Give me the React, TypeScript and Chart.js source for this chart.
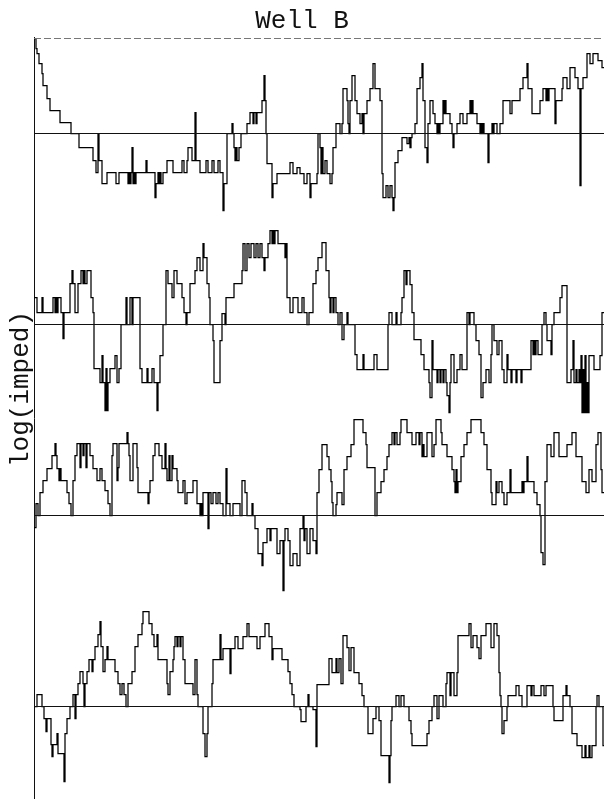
import { useEffect, useRef } from "react";
import { Chart, registerables } from "chart.js";

Chart.register(...registerables);

const chartTitle = "Well B";
const yAxisLabel = "log(imped)";
const depthMax = 570;
const stripGap = 191;
const firstBaseline = -96.5;

// [depth, deviation from strip baseline]
const strip1: [number, number][] = [
  [0, 95], [2, 85], [3, 80], [5, 70], [8, 60], [9, 48], [13, 35], [16, 23], [26, 11], [37, 0],
  [45, -14], [59, -27], [62, -39], [64, 0], [65, -27], [68, -50], [73, -39], [82, -50], [85, -39], [94, -50],
  [95, -39], [96, -50], [97, -39], [98, -14], [99, -50], [100, -39], [101, -50], [102, -39], [112, -27], [113, -39],
  [121, -64], [122, -50], [124, -39], [125, -50], [126, -39], [127, -50], [129, -39], [133, -27], [139, -39], [148, -27],
  [150, -39], [153, -27], [154, -14], [158, -27], [161, 21], [162, -27], [166, -39], [172, -27], [174, -39], [178, -27],
  [180, -39], [184, -27], [186, -39], [189, -77], [190, -50], [193, 0], [198, 10], [199, 0], [200, -14], [201, -27],
  [202, -14], [203, -27], [205, -14], [207, 0], [213, 10], [216, 21], [219, 10], [220, 21], [222, 10], [223, 21],
  [228, 33], [230, 58], [231, 33], [232, 0], [233, -30], [238, -64], [239, -50], [243, -40], [256, -29], [259, -40],
  [263, -34], [266, -40], [270, -50], [273, -40], [276, -64], [277, -50], [283, -40], [284, 0], [286, -14], [287, -40],
  [288, -14], [289, -40], [291, -27], [293, -40], [296, -50], [298, -40], [299, -14], [302, 10], [306, 0], [308, 10],
  [309, 45], [313, 33], [314, 10], [315, 0], [316, 33], [318, 58], [321, 33], [323, 20], [326, 10], [328, 20],
  [329, 0], [330, 20], [333, 33], [336, 45], [339, 70], [341, 45], [346, 33], [348, -40], [349, -64], [352, -52],
  [354, -64], [356, -52], [358, -64], [359, -77], [360, -64], [361, -29], [364, -17], [368, -4], [373, -10], [375, -4],
  [376, -14], [377, -4], [378, 0], [381, 10], [383, 45], [386, 56], [388, 70], [389, 33], [391, -14], [393, -29],
  [394, 10], [396, 33], [399, 20], [401, 10], [403, 0], [404, 10], [405, 0], [406, 10], [409, 33], [410, 20],
  [411, 33], [412, 20], [416, 10], [418, 0], [419, -14], [420, 0], [423, 10], [426, 20], [429, 10], [433, 20],
  [436, 33], [437, 20], [438, 33], [439, 20], [443, 10], [446, 0], [447, 10], [448, 0], [449, 10], [450, 0],
  [454, -29], [455, 0], [458, 10], [459, 0], [460, 10], [463, 0], [466, 10], [469, 33], [476, 20], [478, 33],
  [486, 45], [489, 56], [493, 70], [494, 45], [498, 20], [506, 33], [509, 45], [512, 33], [513, 45], [514, 33],
  [515, 45], [521, 10], [522, 33], [528, 45], [529, 56], [533, 45], [536, 66], [541, 56], [544, 45], [546, -52],
  [547, 45], [549, 56], [553, 80], [556, 70], [559, 80], [564, 73], [568, 66], [570, 66],
];

const strip2: [number, number][] = [
  [0, 27], [3, 12], [8, 27], [9, 12], [19, 27], [21, 12], [22, 27], [23, 12], [24, 27], [27, 12],
  [29, -14], [30, 12], [36, 41], [38, 54], [39, 41], [41, 12], [44, 41], [47, 54], [49, 41], [50, 54],
  [51, 41], [53, 54], [57, 27], [59, 12], [60, -44], [66, -58], [68, -31], [69, -58], [71, -86], [72, -44],
  [73, -86], [74, -58], [76, -44], [81, -31], [83, -58], [85, -44], [87, 0], [92, 27], [93, 0], [96, 27],
  [98, 0], [99, 27], [106, -44], [108, -58], [113, -44], [114, -58], [118, -44], [120, -58], [123, -86], [124, -58],
  [126, -31], [129, 0], [132, 54], [134, 41], [138, 27], [140, 54], [143, 41], [148, 27], [150, 12], [152, 0],
  [153, 12], [156, 41], [161, 54], [163, 67], [166, 54], [169, 81], [170, 67], [173, 41], [175, 27], [176, 0],
  [179, -16], [180, -58], [186, -16], [188, 11], [191, 0], [192, 27], [200, 41], [208, 54], [209, 81], [211, 54],
  [213, 81], [215, 67], [217, 81], [220, 67], [222, 81], [224, 67], [226, 81], [228, 67], [230, 54], [231, 67],
  [234, 81], [236, 94], [238, 81], [239, 94], [240, 81], [241, 94], [244, 81], [251, 67], [252, 81], [253, 27],
  [256, 12], [259, 27], [264, 12], [268, 27], [270, 12], [273, 0], [275, 12], [279, 41], [282, 54], [284, 67],
  [288, 82], [292, 54], [295, 27], [296, 12], [297, 27], [299, 12], [300, 27], [302, 12], [304, 0], [306, 12],
  [308, -15], [310, 0], [313, 12], [314, 0], [321, -30], [323, -45], [329, -30], [330, -45], [340, -30], [343, -45],
  [354, 0], [355, 12], [358, 0], [362, 12], [363, 0], [367, 12], [368, 27], [370, 54], [372, 40], [373, 54],
  [376, 40], [378, 12], [380, -15], [387, -30], [390, -45], [395, -58], [396, -73], [398, -16], [399, -45], [403, -58],
  [404, -45], [406, -58], [407, -45], [409, -58], [410, -45], [412, -58], [413, -71], [415, -88], [416, -58], [417, -30],
  [420, -58], [423, -45], [426, -30], [428, -45], [433, 12], [435, 0], [436, 12], [440, 0], [442, -16], [445, -30],
  [447, -73], [449, -58], [452, -45], [455, -58], [457, -30], [458, 0], [460, -16], [463, -30], [465, -16], [468, -45],
  [470, -58], [473, -30], [474, -45], [477, -58], [478, -45], [482, -58], [483, -45], [487, -58], [488, -45], [497, -16],
  [499, -30], [500, -16], [501, -30], [502, -16], [504, -30], [508, 0], [510, 12], [512, 0], [513, -16], [517, -30],
  [518, 0], [520, 12], [526, 27], [528, 39], [533, -58], [537, -45], [539, -16], [540, -58], [542, -45], [543, -58],
  [545, -45], [546, -58], [547, -31], [548, -88], [549, -45], [550, -88], [551, -31], [552, -88], [553, -58], [554, -88],
  [555, -31], [560, -45], [566, -31], [568, 12], [570, 12],
];

const strip3: [number, number][] = [
  [0, -12], [2, 12], [4, 0], [6, 23], [9, 35], [13, 47], [18, 60], [21, 72], [22, 60], [23, 47],
  [25, 35], [26, 47], [27, 35], [33, 23], [35, 12], [37, 0], [39, 35], [41, 60], [43, 72], [46, 48],
  [47, 72], [49, 60], [50, 72], [52, 48], [53, 72], [56, 60], [59, 47], [63, 35], [66, 47], [68, 35],
  [71, 25], [74, 12], [76, 0], [78, 60], [79, 72], [83, 35], [84, 48], [85, 72], [93, 83], [94, 72],
  [95, 60], [96, 35], [99, 72], [103, 48], [104, 23], [114, 12], [115, 23], [116, 35], [119, 60], [121, 72],
  [125, 60], [128, 47], [131, 72], [132, 47], [133, 35], [135, 60], [136, 35], [138, 60], [139, 47], [143, 35],
  [144, 23], [149, 35], [151, 12], [153, 23], [159, 35], [163, 12], [166, 0], [167, 12], [168, 0], [169, 23],
  [174, -13], [175, 23], [177, 12], [179, 23], [182, 12], [184, 23], [186, 12], [189, 0], [192, 47], [193, 12],
  [196, 0], [199, 12], [206, 0], [208, 35], [211, 23], [213, 0], [218, 12], [219, 0], [221, -13], [224, -38],
  [228, -50], [229, -27], [233, -13], [236, -25], [237, -13], [243, -38], [246, -25], [249, -75], [250, -25], [251, -13],
  [254, -25], [256, -50], [259, -38], [263, -50], [266, -13], [269, 0], [270, -25], [271, -13], [273, -38], [276, -13],
  [279, -25], [282, -38], [283, 23], [285, 46], [288, 71], [293, 59], [295, 46], [297, 34], [298, 13], [299, 0],
  [302, 11], [303, 23], [308, 11], [310, 46], [313, 59], [317, 71], [320, 96], [329, 83], [332, 71], [333, 48],
  [341, 0], [343, 23], [347, 34], [350, 46], [353, 59], [355, 71], [358, 83], [360, 71], [361, 83], [363, 71],
  [366, 83], [367, 96], [373, 83], [378, 71], [382, 83], [385, 71], [386, 83], [388, 59], [389, 71], [390, 59],
  [393, 83], [398, 59], [400, 71], [402, 96], [407, 83], [408, 71], [413, 59], [418, 46], [420, 34], [421, 23],
  [422, 46], [423, 23], [424, 34], [427, 59], [430, 71], [433, 83], [437, 96], [447, 83], [450, 71], [453, 46],
  [457, 23], [458, 11], [462, 34], [463, 23], [465, 34], [468, 23], [470, 11], [473, 23], [476, 46], [477, 23],
  [488, 34], [489, 23], [490, 34], [493, 59], [494, 34], [500, 23], [503, 11], [506, 0], [507, -37], [509, -49],
  [511, 34], [513, 71], [517, 59], [520, 83], [525, 59], [533, 71], [538, 83], [542, 59], [548, 34], [552, 23],
  [555, 46], [558, 34], [562, 71], [564, 83], [567, 46], [568, 23], [570, 23],
];

const strip4: [number, number][] = [
  [0, 0], [3, 12], [8, 0], [10, -12], [12, -25], [13, -12], [17, -38], [18, -50], [19, -38], [23, -27],
  [24, -47], [30, -75], [31, -27], [33, -12], [36, 0], [39, 12], [41, -12], [42, 12], [44, 23], [46, 35],
  [49, 23], [50, 0], [51, 23], [53, 35], [55, 47], [58, 35], [59, 47], [61, 60], [64, 72], [66, 85],
  [67, 60], [69, 35], [71, 47], [73, 60], [74, 47], [81, 35], [84, 23], [86, 12], [88, 23], [90, 12],
  [92, 0], [94, 23], [98, 35], [101, 60], [104, 72], [108, 83], [109, 95], [115, 83], [118, 72], [120, 60],
  [123, 72], [124, 47], [133, 23], [134, 12], [136, 35], [139, 47], [140, 60], [141, 70], [143, 60], [144, 70],
  [146, 60], [147, 70], [149, 47], [151, 23], [159, 12], [161, 47], [163, 12], [164, 0], [169, -27], [171, -50],
  [173, -27], [174, 0], [178, 23], [179, 47], [186, 72], [187, 47], [189, 58], [196, 33], [197, 58], [201, 70],
  [204, 58], [209, 70], [213, 83], [215, 70], [223, 58], [226, 70], [231, 83], [235, 70], [238, 47], [239, 58],
  [248, 47], [254, 35], [256, 23], [258, 12], [260, 0], [266, -3], [267, -15], [272, 0], [274, 12], [275, 0],
  [279, -3], [282, -40], [283, 22], [295, 48], [298, 34], [302, 48], [303, 34], [305, 48], [307, 23], [309, 71],
  [313, 59], [315, 36], [317, 59], [320, 34], [325, 23], [328, 11], [330, 0], [334, -27], [339, -12], [342, 0],
  [345, -14], [347, -49], [355, -76], [356, -49], [357, -14], [358, 0], [362, 11], [365, 0], [367, 11], [370, 0],
  [375, -14], [377, -27], [378, -39], [393, -27], [395, -14], [398, 0], [400, 11], [403, -12], [405, 11], [409, 0],
  [412, 23], [413, 34], [416, 11], [417, 34], [420, 11], [423, 34], [424, 71], [435, 83], [437, 59], [439, 71],
  [443, 59], [445, 48], [447, 71], [452, 83], [457, 59], [460, 83], [463, 71], [465, 34], [466, 11], [467, 0],
  [468, -27], [470, -14], [473, 0], [474, 11], [482, 21], [485, 11], [488, 0], [493, 21], [497, 11], [498, 21],
  [500, 11], [507, 21], [510, 11], [512, 21], [519, 0], [520, -14], [529, 11], [532, 21], [533, 11], [536, 0],
  [538, -27], [543, -39], [548, -51], [551, -39], [552, -51], [555, -39], [556, -51], [558, -39], [562, 0], [563, 11],
  [565, 0], [569, -39], [570, -39],
];

const strips = [strip1, strip2, strip3, strip4];

export default function App() {
  const ref = useRef<HTMLCanvasElement>(null);

  useEffect(() => {
    if (!ref.current) return;
    const datasets: any[] = [];
    datasets.push({
      data: [{ x: 0, y: -1.5 }, { x: depthMax, y: -1.5 }],
      borderColor: "#777",
      borderWidth: 1,
      borderDash: [7, 3],
      pointRadius: 0,
    });
    strips.forEach((s, k) => {
      const base = firstBaseline - k * stripGap;
      datasets.push({
        data: [{ x: 0, y: base }, { x: depthMax, y: base }],
        borderColor: "#111",
        borderWidth: 1,
        pointRadius: 0,
      });
      datasets.push({
        data: s.map(([d, v]) => ({ x: d, y: base + v })),
        borderColor: "#000",
        borderWidth: 1.25,
        pointRadius: 0,
        stepped: true,
      });
    });

    const yLabelPlugin = {
      id: "yLabel",
      afterDraw(chart: any) {
        const ctx = chart.ctx;
        ctx.save();
        ctx.translate(21, 389);
        ctx.rotate(-Math.PI / 2);
        ctx.font = '26px "Liberation Mono", monospace';
        ctx.fillStyle = "#111";
        ctx.textAlign = "center";
        ctx.textBaseline = "middle";
        ctx.fillText(yAxisLabel, 0, 0);
        ctx.restore();
      },
    };

    const chart = new Chart(ref.current, {
      type: "line",
      data: { datasets },
      options: {
        animation: false,
        responsive: false,
        devicePixelRatio: 1,
        layout: { padding: 0 },
        plugins: {
          legend: { display: false },
          tooltip: { enabled: false },
          title: {
            display: true,
            text: chartTitle,
            color: "#111",
            font: { family: '"Liberation Mono", monospace', size: 26, weight: "normal", lineHeight: 1 },
            padding: { top: 8, bottom: 3 },
          },
        },
        scales: {
          x: { type: "linear", min: 0, max: depthMax, display: false },
          y: {
            type: "linear",
            min: -762,
            max: 0,
            display: true,
            grid: { display: false, drawTicks: false },
            ticks: { display: false },
            border: { display: true, color: "#111", width: 1 },
            afterFit: (scale: any) => {
              scale.width = 34;
            },
          },
        },
      },
      plugins: [yLabelPlugin],
    });
    return () => chart.destroy();
  }, []);

  return (
    <canvas
      ref={ref}
      width={604}
      height={799}
      style={{ position: "fixed", left: 0, top: 0, width: 604, height: 799 }}
    />
  );
}
